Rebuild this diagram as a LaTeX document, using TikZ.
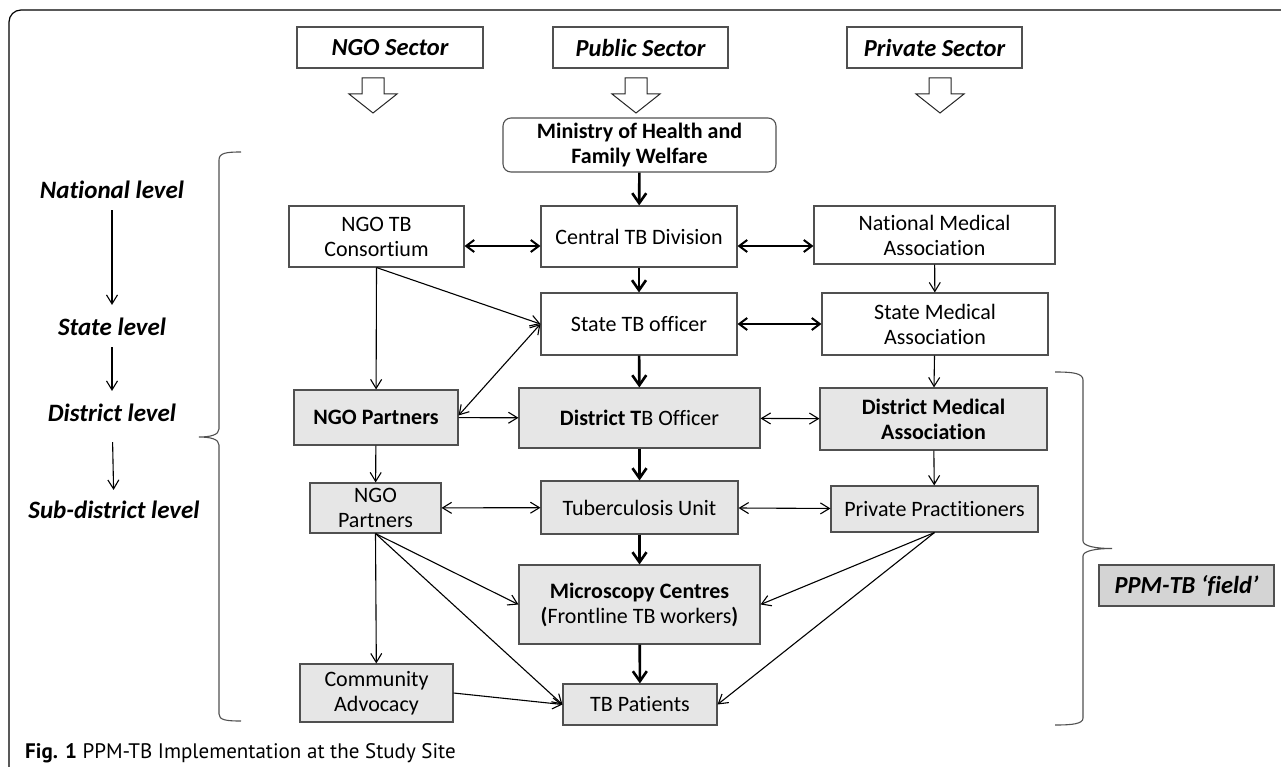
\documentclass[tikz,border=0pt]{standalone}
\usepackage{fontspec}
\setmainfont{Carlito}[Ligatures={TeX,NoCommon}]
\newfontfamily\capfont{PT Sans}
\usetikzlibrary{arrows.meta}

\definecolor{boxgray}{HTML}{E6E6E6}
\definecolor{fieldgray}{HTML}{D4D4D4}
\definecolor{edgegray}{HTML}{505050}

\begin{document}
\begin{tikzpicture}[x=1pt,y=-1pt]
        \tikzstyle{box}=[draw=edgegray, line width=1.1pt, align=center, inner sep=0pt, font=\fontsize{22}{25}\selectfont]
        \tikzstyle{gbox}=[box, fill=boxgray]
        \tikzstyle{sector}=[box, font=\fontsize{24.5}{28}\selectfont\bfseries\itshape]
        \tikzstyle{lvl}=[inner sep=2pt, font=\fontsize{25}{28}\selectfont\bfseries\itshape]
        \tikzstyle{flow}=[line width=1.1pt, -{Straight Barb[length=9pt,width=11pt]}]
        \tikzstyle{flowboth}=[line width=1.1pt, {Straight Barb[length=9pt,width=11pt]}-{Straight Barb[length=9pt,width=11pt]}]
        \tikzstyle{mainflow}=[line width=2.6pt, -{Straight Barb[length=10pt,width=14pt]}]
        \tikzstyle{boldboth}=[line width=2pt, {Straight Barb[length=8pt,width=12pt]}-{Straight Barb[length=8pt,width=12pt]}]
        \useasboundingbox (0,0) rectangle (1281,767);
        \draw[line width=1.2pt, rounded corners=12pt] (9,10) rectangle (1300,790);

        % sectors and hollow arrows
        \node[sector, minimum width=186pt, minimum height=41pt] (ngo) at (390,47.5) {NGO Sector};
        \node[sector, minimum width=175pt, minimum height=41pt] (pub) at (640.5,47.5) {Public Sector};
        \node[sector, minimum width=175pt, minimum height=41pt] (pri) at (934.5,47.5) {Private Sector};
        \foreach \x in {373,636,940}
          \draw[black!85, line width=1pt, fill=white] (\x-11,78) -- (\x+11,78) -- (\x+11,94) -- (\x+24,94)
            -- (\x,113) -- (\x-24,94) -- (\x-11,94) -- cycle;

        % levels
        \node[lvl] (nat) at (112,190) {National level};
        \node[lvl] (sta) at (112,327) {State level};
        \node[lvl] (dis) at (112,413) {District level};
        \node[lvl] (sub) at (114,510) {Sub-district level};
        \draw[flow, shorten <=9pt, shorten >=11pt] (nat) -- (sta);
        \draw[flow, shorten <=9pt, shorten >=11pt] (sta) -- (dis);
        \draw[flow, shorten <=18pt, shorten >=9pt] (dis) -- (sub);

        % national and state
        \node[box, rounded corners=8pt, font=\fontsize{22}{25}\selectfont\bfseries, minimum width=273pt, minimum height=54pt] (mohfw) at (639.5,145) {Ministry of Health and\\Family Welfare};
        \node[box, minimum width=175pt, minimum height=61pt] (ngotb) at (376.5,236.5) {NGO TB\\Consortium};
        \node[box, minimum width=196pt, minimum height=61pt] (ctd) at (639,236.5) {Central TB Division};
        \node[box, minimum width=241pt, minimum height=58pt] (nma) at (934.5,235) {National Medical\\Association};
        \node[box, minimum width=196pt, minimum height=62pt] (stb) at (639,324) {State TB officer};
        \node[box, minimum width=226pt, minimum height=62pt] (sma) at (935,324) {State Medical\\Association};

        % district and below
        \node[gbox, font=\fontsize{22}{25}\selectfont\bfseries, minimum width=164pt, minimum height=55pt] (ngop) at (376,417.5) {NGO Partners};
        \node[gbox, minimum width=241pt, minimum height=60pt] (dto) at (639.5,418) {\textbf{District T}B Officer};
        \node[gbox, font=\fontsize{22}{25}\selectfont\bfseries, minimum width=227pt, minimum height=62pt] (dma) at (933.5,419) {District Medical\\Association};
        \node[gbox, minimum width=131pt, minimum height=50pt] (ngos) at (375.5,508) {NGO\\Partners};
        \node[gbox, minimum width=197pt, minimum height=53pt] (tu) at (639.5,507.5) {Tuberculosis Unit};
        \node[gbox, minimum width=207pt, minimum height=46pt] (pp) at (934.5,509) {Private Practitioners};
        \node[gbox, minimum width=241pt, minimum height=79pt] (mc) at (639.5,604.5) {\textbf{Microscopy Centres}\\\textbf{(}Frontline TB workers\textbf{)}};
        \node[gbox, minimum width=153pt, minimum height=58pt] (ca) at (376.5,693) {Community\\Advocacy};
        \node[gbox, minimum width=154pt, minimum height=41pt] (tbp) at (640,704.5) {TB Patients};
        \node[sector, fill=fieldgray, minimum width=175pt, minimum height=41pt] (ppm) at (1186.5,585.5) {PPM-TB ‘field’};

        % public column
        \draw[mainflow] (mohfw) -- (ctd);
        \draw[mainflow] (ctd) -- (stb);
        \draw[mainflow] (stb) -- (dto);
        \draw[mainflow] (dto) -- (tu);
        \draw[mainflow] (tu) -- (mc);
        \draw[mainflow] (mc) -- (tbp);

        % private and ngo columns
        \draw[flow] (nma) -- (sma);
        \draw[flow] (sma) -- (dma);
        \draw[flow] (dma) -- (pp);
        \draw[flow] (ngotb.south) -- (ngop);
        \draw[flow] (ngop) -- (ngos);
        \draw[flow] (ngos.south) -- (ca);

        % across
        \draw[boldboth] ([yshift=-9.5pt]ngotb.east) -- ([yshift=-9.5pt]ctd.west);
        \draw[boldboth] ([yshift=-9.5pt]ctd.east) -- ([yshift=-11pt]nma.west);
        \draw[boldboth] (stb) -- (sma);
        \draw[flow] (ngop) -- (dto);
        \draw[flowboth] (dto) -- (dma);
        \draw[flowboth] (ngos) -- (tu);
        \draw[flowboth] (tu) -- (pp);
        \draw[flow] (ngotb.south) -- (stb.west);
        \draw[flowboth] ([yshift=2pt]ngop.east) -- (stb.west);
        \draw[flow] (ngos.south) -- (mc.west);
        \draw[flow] (ngos.south) -- (tbp.west);
        \draw[flow] (ca.east) -- (tbp.west);
        \draw[flow] (pp.south) -- (mc.east);
        \draw[flow] (pp.south) -- (tbp.east);

        % braces
        \draw[edgegray, line width=1.1pt] (241,152) .. controls (226,152) and (219,153) .. (219,160) -- (219,429)
          .. controls (219,435) and (210,437) .. (199,437) .. controls (210,437) and (219,439) .. (219,445)
          -- (219,714) .. controls (219,720) and (226,721) .. (241,721);
        \draw[edgegray, line width=1.1pt] (1055,372) .. controls (1072,372) and (1083,373) .. (1083,380) -- (1083,541)
          .. controls (1083,546) and (1095,548.5) .. (1112,548.5) .. controls (1095,548.5) and (1083,551) .. (1083,556)
          -- (1083,718) .. controls (1083,724) and (1072,725) .. (1055,725);

        \node[anchor=base west, inner sep=0pt] (cap) at (25,758) {\fontsize{21}{25}\selectfont\capfont\textbf{Fig. 1} PPM-TB Implementation at the Study Site};
      \end{tikzpicture}
\end{document}
